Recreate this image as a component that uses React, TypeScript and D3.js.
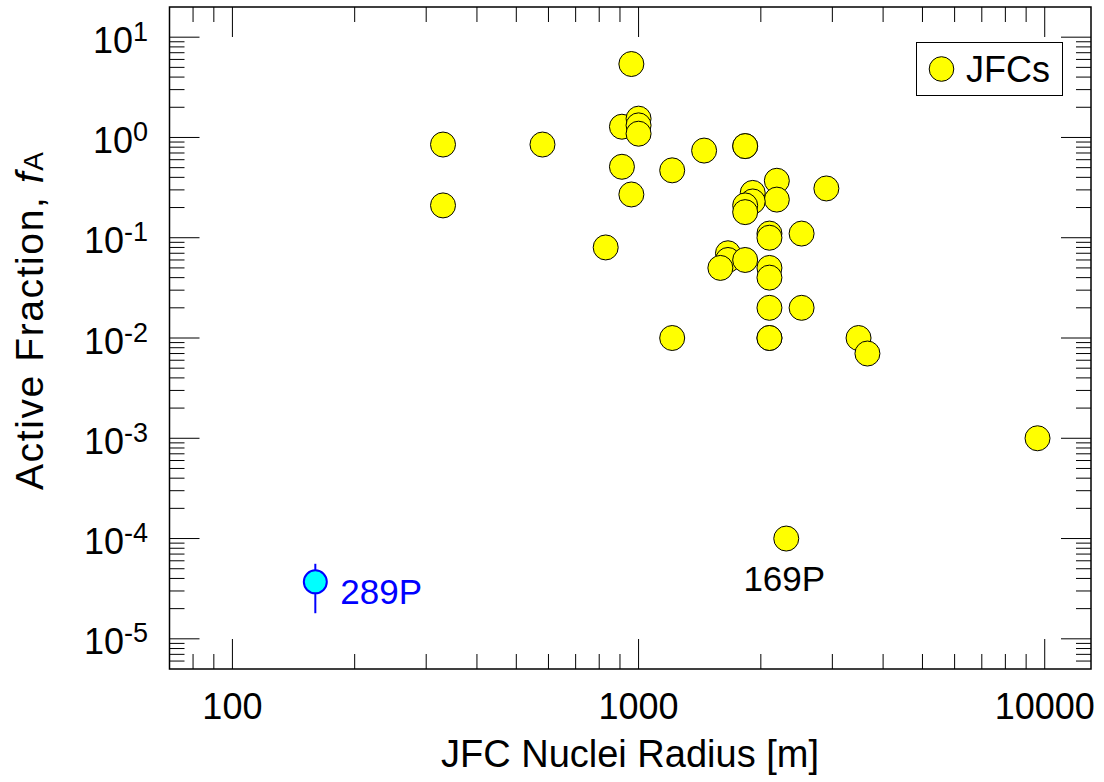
import React from "react";
import * as d3 from "d3";

// ---- data ----
const jfcRadius = [
  330, 330, 580, 830, 960, 910, 1000, 1000, 1000, 910, 960, 1210, 1450,
  1830, 1830, 2190, 2190, 2900, 1910, 1910, 1830, 1830, 2100, 2100, 2520,
  1660, 1660, 1590, 1830, 2100, 2100, 2100, 2520, 2100, 2100, 3480, 3660,
  1210, 9600, 2310,
];
const jfcActive = [
  0.85, 0.21, 0.85, 0.08, 5.4, 1.28, 1.54, 1.32, 1.09, 0.51, 0.27, 0.47, 0.74,
  0.82, 0.82, 0.37, 0.24, 0.31, 0.28, 0.23, 0.21, 0.18, 0.11, 0.1, 0.11,
  0.07, 0.06, 0.05, 0.06, 0.05, 0.04, 0.02, 0.02, 0.01, 0.01, 0.01, 0.007,
  0.01, 0.001, 0.0001,
];
const p289 = { name: "289P", radius: 160, active: 3.7e-5, low: 1.8e-5, high: 5.6e-5 };
const p169Label = { name: "169P", radius: 2310, active: 0.0001 };

const xDomain = [70, 13000];
const yDomain = [5e-6, 20];
const xTickValues = [100, 1000, 10000];
const xTickLabels = ["100", "1000", "10000"];
const yTickExponents = [1, 0, -1, -2, -3, -4, -5];

const xTitle = "JFC Nuclei Radius [m]";
const legendLabel = "JFCs";

const FONT = "'Liberation Sans', Arial, Helvetica, sans-serif";

export default function App() {
  const W = 1104, H = 782;
  const L = 169.5, R = 1091, T = 7, B = 669;
  const x = d3.scaleLog().domain(xDomain).range([L, R]);
  const y = d3.scaleLog().domain(yDomain).range([B, T]);

  const minorX: number[] = [];
  for (let e = 1; e <= 4; e++) for (let m = 2; m <= 9; m++) {
    const v = m * Math.pow(10, e);
    if (v > xDomain[0] && v < xDomain[1]) minorX.push(v);
  }
  const minorY: number[] = [];
  for (let e = -6; e <= 1; e++) for (let m = 2; m <= 9; m++) {
    const v = m * Math.pow(10, e);
    if (v > yDomain[0] && v < yDomain[1]) minorY.push(v);
  }
  const majorLen = 30, minorLen = 15;

  const ticks: JSX.Element[] = [];
  xTickValues.forEach((v, i) => {
    const px = x(v);
    ticks.push(<line key={"xb" + i} x1={px} x2={px} y1={B} y2={B - majorLen} stroke="#000" strokeWidth={1} />);
    ticks.push(<line key={"xt" + i} x1={px} x2={px} y1={T} y2={T + majorLen} stroke="#000" strokeWidth={1} />);
  });
  minorX.forEach((v, i) => {
    const px = x(v);
    ticks.push(<line key={"mxb" + i} x1={px} x2={px} y1={B} y2={B - minorLen} stroke="#000" strokeWidth={1} />);
    ticks.push(<line key={"mxt" + i} x1={px} x2={px} y1={T} y2={T + minorLen} stroke="#000" strokeWidth={1} />);
  });
  yTickExponents.forEach((e, i) => {
    const py = y(Math.pow(10, e));
    ticks.push(<line key={"yl" + i} x1={L} x2={L + majorLen} y1={py} y2={py} stroke="#000" strokeWidth={1} />);
    ticks.push(<line key={"yr" + i} x1={R} x2={R - majorLen} y1={py} y2={py} stroke="#000" strokeWidth={1} />);
  });
  minorY.forEach((v, i) => {
    const py = y(v);
    ticks.push(<line key={"myl" + i} x1={L} x2={L + minorLen} y1={py} y2={py} stroke="#000" strokeWidth={1} />);
    ticks.push(<line key={"myr" + i} x1={R} x2={R - minorLen} y1={py} y2={py} stroke="#000" strokeWidth={1} />);
  });

  const r = 12.5;

  return (
    <svg width={W} height={H} style={{ position: "absolute", left: 0, top: 0, background: "#fff" }} fontFamily={FONT}>
      <rect x={0} y={0} width={W} height={H} fill="#fff" />
      {ticks}
      {/* x tick labels */}
      {xTickValues.map((v, i) => (
        <text key={"xl" + i} x={x(v)} y={718.5} fontSize={36} textAnchor="middle" fill="#000">{xTickLabels[i]}</text>
      ))}
      {/* y tick labels */}
      {yTickExponents.map((e, i) => (
        <text key={"yl" + i} x={148} y={y(Math.pow(10, e)) + 15.5} fontSize={36} textAnchor="end" fill="#000">
          10<tspan fontSize={27} dy={-12}>{String(e)}</tspan>
        </text>
      ))}
      {/* axis titles */}
      <text x={630} y={766.5} fontSize={38} textAnchor="middle" fill="#000">{xTitle}</text>
      <text transform={`translate(43,321) rotate(-90)`} fontSize={39} textAnchor="middle" fill="#000"
        textLength={338} lengthAdjust="spacing">
        Active Fraction, <tspan fontStyle="italic">f</tspan><tspan fontSize={28}>A</tspan>
      </text>
      {/* JFC points */}
      {jfcRadius.map((v, i) => (
        <circle key={"p" + i} cx={x(v)} cy={y(jfcActive[i])} r={r} fill="#ffff00" stroke="#000" strokeWidth={1} />
      ))}
      {/* 169P label */}
      <text x={x(p169Label.radius) - 2} y={590.5} fontSize={35} textAnchor="middle" fill="#000">{p169Label.name}</text>
      {/* 289P */}
      <line x1={x(p289.radius)} x2={x(p289.radius)} y1={y(p289.high)} y2={y(p289.low)} stroke="#0000ff" strokeWidth={2} />
      <circle cx={x(p289.radius)} cy={y(p289.active)} r={11.5} fill="#00ffff" stroke="#0000ff" strokeWidth={2} />
      <text x={x(p289.radius) + 25} y={603.5} fontSize={35} fill="#0000ff">{p289.name}</text>
      {/* legend */}
      <rect x={916.5} y={42.5} width={146} height={53} fill="#fff" stroke="#000" strokeWidth={1} />
      <circle cx={941.5} cy={69} r={12.3} fill="#ffff00" stroke="#000" strokeWidth={1} />
      <text x={966} y={82} fontSize={36} fill="#000">{legendLabel}</text>
      {/* frame */}
      <rect x={L} y={T} width={R - L} height={B - T} fill="none" stroke="#000" strokeWidth={1.5} />
    </svg>
  );
}
